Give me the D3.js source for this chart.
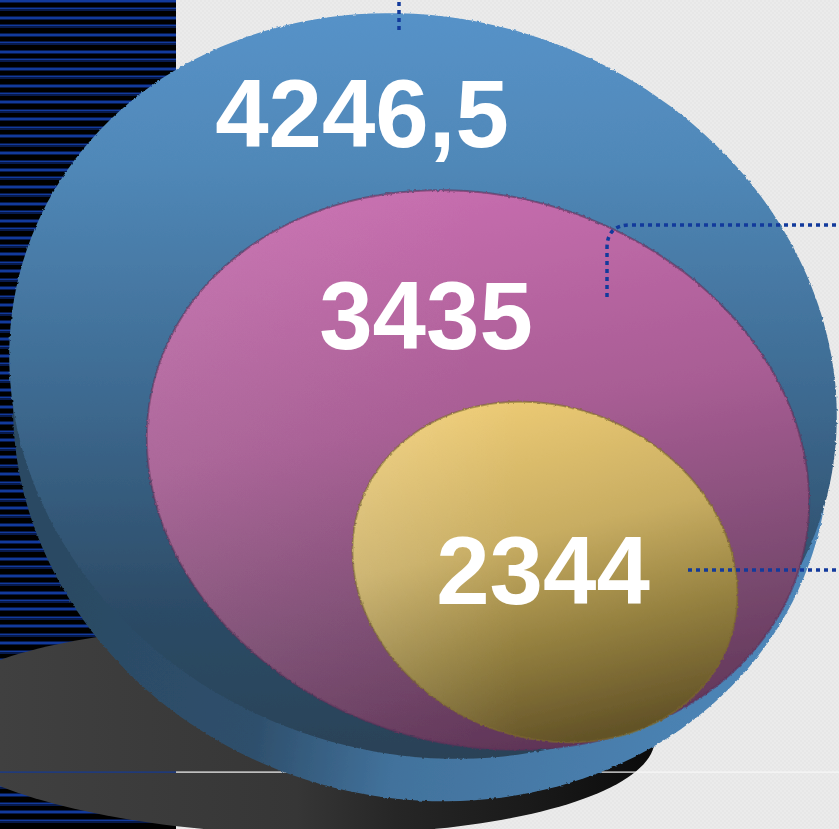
<!DOCTYPE html>
<html><head><meta charset="utf-8">
<script src="https://cdn.jsdelivr.net/npm/d3@7/dist/d3.min.js"></script>
<style>html,body{margin:0;padding:0;background:#e9e9e9;overflow:hidden}svg{display:block}</style>
</head><body><svg id="c" width="839" height="829"></svg>
<script>
const labels = ["4246,5", "3435", "2344"];
const values = [4246.5, 3435, 2344];

const W = 839, H = 829;
const svg = d3.select("#c");
const defs = svg.append("defs");
const major = d3.scaleLinear().domain([2344, 3435, 4246.5]).range([197, 336, 419]);
const minor = d3.scaleLinear().domain([2344, 3435, 4246.5]).range([165, 274, 367]);
const cx = [423, 478, 545], cy = [386, 470, 572], tilt = [19, 17, 23];
const labelX = [362, 426, 543], labelY = [147, 348.5, 604];

function ellipsePath(x, y, a, b, deg) {
  const t = deg * Math.PI / 180;
  return d3.line().curve(d3.curveLinearClosed)(d3.range(0, 360, 2).map(k => {
    const u = k * Math.PI / 180, ex = a * Math.cos(u), ey = b * Math.sin(u);
    return [x + ex * Math.cos(t) - ey * Math.sin(t), y + ex * Math.sin(t) + ey * Math.cos(t)];
  }));
}
function grad(id, x1, y1, x2, y2, stops) {
  const g = defs.append("linearGradient").attr("id", id).attr("gradientUnits", "userSpaceOnUse")
    .attr("x1", x1).attr("y1", y1).attr("x2", x2).attr("y2", y2);
  stops.forEach(s => g.append("stop").attr("offset", s[0]).attr("stop-color", s[1]).attr("stop-opacity", s[2] === undefined ? 1 : s[2]));
}
grad("gBlue", 425, 14, 425, 760, [[0, "#5692c8"], [.2, "#5088b8"], [.5, "#3e6b92"], [.8, "#2c4b66"], [1, "#2a4257"]]);
grad("gSide", 60, 600, 760, 700, [[0, "#2b4a63"], [.3, "#2e4f6c"], [.5, "#42729c"], [1, "#4d86b8"]]);
grad("gPink", 450, 190, 540, 750, [[0, "#c66dae"], [.4, "#a85d94"], [.75, "#7a4a70"], [1, "#5f3557"]]);
grad("gGold", 490, 402, 570, 743, [[0, "#ecca74"], [.4, "#c8ad62"], [.7, "#94803f"], [1, "#625227"]]);
grad("gPinkWash", 147, 0, 480, 0, [[0, "#cfcfcf", .1], [1, "#cfcfcf", 0]]);
grad("gGoldWash", 352, 0, 520, 0, [[0, "#ffffff", .12], [1, "#ffffff", 0]]);
grad("gShadow", 0, 730, 660, 730, [[0, "#404040"], [.45, "#363636"], [.6, "#262626"], [.8, "#1a1a1a"], [1, "#0a0a0a"]]);

// slightly rough, soft edge of the raster original
const rough = defs.append("filter").attr("id", "rough").attr("filterUnits", "userSpaceOnUse")
  .attr("x", -10).attr("y", -10).attr("width", W + 20).attr("height", H + 20);
rough.append("feTurbulence").attr("type", "fractalNoise").attr("baseFrequency", .35).attr("numOctaves", 1).attr("seed", 4).attr("result", "n");
rough.append("feDisplacementMap").attr("in", "SourceGraphic").attr("in2", "n").attr("scale", 3).attr("xChannelSelector", "R").attr("yChannelSelector", "G").attr("result", "d");
rough.append("feGaussianBlur").attr("in", "d").attr("stdDeviation", .5);

// background texture
const pat = defs.append("pattern").attr("id", "chk").attr("width", 4).attr("height", 4).attr("patternUnits", "userSpaceOnUse");
pat.append("rect").attr("width", 4).attr("height", 4).attr("fill", "#ebebeb");
pat.append("rect").attr("width", 2).attr("height", 2).attr("fill", "#e7e7e7");
pat.append("rect").attr("x", 2).attr("y", 2).attr("width", 2).attr("height", 2).attr("fill", "#e7e7e7");
svg.append("rect").attr("width", W).attr("height", H).attr("fill", "url(#chk)");
svg.append("rect").attr("width", 176).attr("height", H).attr("fill", "#000");
const stripes = svg.append("g");
stripes.selectAll("rect.h").data(d3.range(0, 98)).join("rect").attr("class", "h")
  .attr("x", 0).attr("width", 176).attr("y", i => Math.round(i * 8.45) - 1).attr("height", 4).attr("fill", "#071a4c");
stripes.selectAll("rect.c").data(d3.range(0, 98)).join("rect").attr("class", "c")
  .attr("x", 0).attr("width", 176).attr("y", i => Math.round(i * 8.45)).attr("height", i => i % 2 ? 1 : 2).attr("fill", "#123a9c");

// shadow and horizon line
svg.append("path").attr("d", ellipsePath(290, 730, 365, 104, 1.5)).attr("fill", "url(#gShadow)");
svg.append("rect").attr("x", 0).attr("y", 771.5).attr("width", 176).attr("height", 1.2).attr("fill", "#143a94");
svg.append("rect").attr("x", 176).attr("y", 771.5).attr("width", W - 176).attr("height", 1.2).attr("fill", "#f8f8f8");

// disc side and faces
const disc = svg.append("g").attr("filter", "url(#rough)");
disc.append("path").attr("d", ellipsePath(421, 429, 411, 369, 16)).attr("fill", "url(#gSide)");
const fills = ["url(#gBlue)", "url(#gPink)", "url(#gGold)"];
const washes = ["none", "url(#gPinkWash)", "url(#gGoldWash)"];
const edges = ["none", "#5f3058", "#7d6a2c"];
const faces = disc.append("g").selectAll("g").data(values).join("g");
faces.append("path")
  .attr("d", (d, i) => ellipsePath(cx[i], cy[i], major(d), minor(d), tilt[i]))
  .attr("fill", (d, i) => fills[i]).attr("stroke", (d, i) => edges[i]).attr("stroke-opacity", .6).attr("stroke-width", 2);
faces.append("path")
  .attr("d", (d, i) => ellipsePath(cx[i], cy[i], major(d), minor(d), tilt[i]))
  .attr("fill", (d, i) => washes[i]);

// leaders
const leaders = ["M399,2V30", "M836,225H630Q607,225 607,248V297", "M688,570H839"];
svg.append("g").selectAll("path").data(leaders).join("path").attr("d", d => d)
  .attr("fill", "none").attr("stroke", "#123a9c").attr("stroke-width", 3.5).attr("stroke-dasharray", "4 4");

// value labels
svg.append("g").selectAll("text").data(labels).join("text")
  .attr("x", (d, i) => labelX[i]).attr("y", (d, i) => labelY[i]).attr("text-anchor", "middle")
  .attr("font-family", "'Liberation Sans',Arial,sans-serif").attr("font-weight", 700).attr("font-size", 96)
  .attr("fill", "#fff").text(d => d);
</script></body></html>
